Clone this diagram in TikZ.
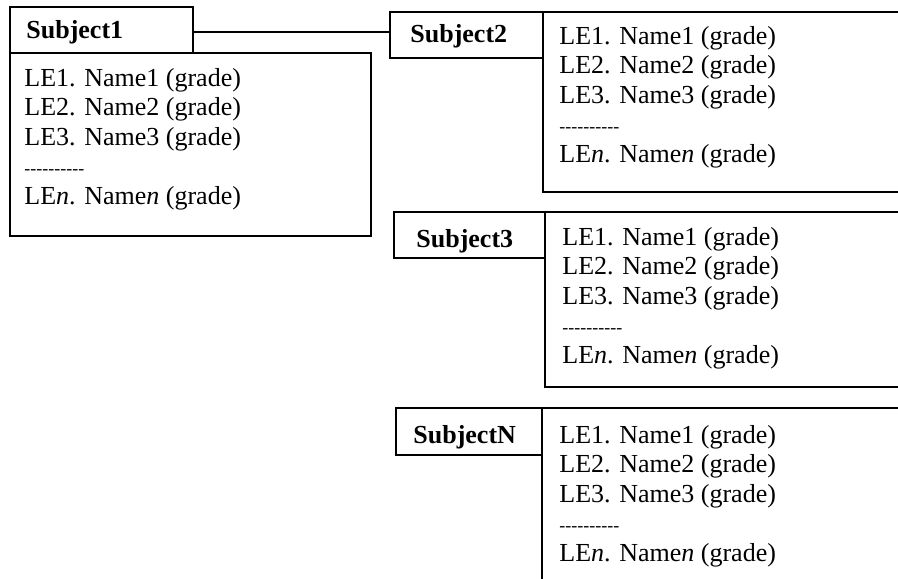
\documentclass[tikz,border=0pt]{standalone}
\usepackage{fontspec}
\setmainfont{Liberation Serif}
\newcommand\dashrow{\mbox{-}\mbox{-}\mbox{-}\mbox{-}\mbox{-}\mbox{-}\mbox{-}\mbox{-}\mbox{-}\mbox{-}}
\tikzset{
  boxframe/.style={draw, line width=0.7pt, anchor=north west, inner sep=0pt, outer sep=0pt, rectangle},
  headtext/.style={font=\bfseries\fontsize{13}{15}\selectfont, anchor=base west, inner sep=0pt},
  itemtext/.style={font=\fontsize{13}{15}\selectfont, anchor=base west, inner sep=0pt},
  dashtext/.style={font=\fontsize{9}{10}\selectfont, anchor=base west, inner sep=0pt},
}
\newcommand\lelist[3]{%
  \node[itemtext] (#1a) at (#2,#3) {LE1. Name1 (grade)};
  \node[itemtext] (#1b) at (#2,{#3+29.5}) {LE2. Name2 (grade)};
  \node[itemtext] (#1c) at (#2,{#3+59}) {LE3. Name3 (grade)};
  \node[dashtext] (#1d) at (#2,{#3+88.5}) {\dashrow};
  \node[itemtext] (#1e) at (#2,{#3+118}) {LE\textit{n}. Name\textit{n} (grade)};
}
\begin{document}
\begin{tikzpicture}[x=0.5pt,y=-0.5pt]
\useasboundingbox (0,0) rectangle (898,578);
\clip (0,0) rectangle (898,578);
% content boxes
\node[boxframe, minimum width=180.5pt, minimum height=91.5pt] (c1) at (10,53) {};
\node[boxframe, minimum width=185pt, minimum height=90pt] (c2) at (543,12) {};
\node[boxframe, minimum width=185pt, minimum height=87.5pt] (c3) at (545,212) {};
\node[boxframe, minimum width=185pt, minimum height=100pt] (cN) at (542,408) {};
% header boxes
\node[boxframe, minimum width=91.5pt, minimum height=23pt, fill=white] (s1) at (10,7) {};
\node[boxframe, minimum width=76.5pt, minimum height=23pt] (s2) at (390,12) {};
\node[boxframe, minimum width=75.5pt, minimum height=23pt] (s3) at (394,212) {};
\node[boxframe, minimum width=73pt, minimum height=23.5pt] (sN) at (396,408) {};
% header labels
\node[headtext] (t1) at (26,39) {Subject1};
\node[headtext] (t2) at (410,42) {Subject2};
\node[headtext] (t3) at (416,247) {Subject3};
\node[headtext] (tN) at (413,443) {SubjectN};
% connector
\draw[line width=0.6pt] ([yshift=-1pt]s1.east) -- ([yshift=-1pt]s1.east -| s2.west);
% lists
\lelist{l1}{24}{86}
\lelist{l2}{559}{44}
\lelist{l3}{562}{245}
\lelist{lN}{559}{443}
\end{tikzpicture}
\end{document}
